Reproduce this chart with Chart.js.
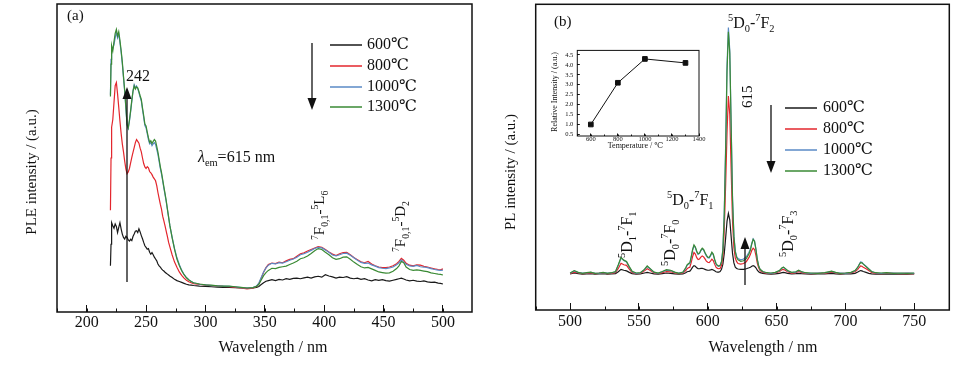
<!DOCTYPE html>
<html lang="zh">
<head>
<meta charset="UTF-8">
<title>PLE / PL spectra</title>
<script src="https://cdn.jsdelivr.net/npm/chart.js"></script>
<style>
  body { margin: 0; background: #fff; }
  #wrap { position: relative; width: 964px; height: 369px; }
  canvas { position: absolute; }
</style>
</head>
<body>
<div id="wrap">
  <canvas id="chartA" width="482" height="369" style="left:0;top:0"></canvas>
  <canvas id="chartB" width="482" height="369" style="left:482px;top:0"></canvas>
  <canvas id="inset" width="170" height="120" style="left:540px;top:40px"></canvas>
</div>
<script>
// (a) excitation spectra, em = 615 nm
const pleWavelength = [
  220, 220.5, 221, 222, 223, 224, 225, 226, 227, 228, 229, 230,
  231, 232, 233, 234, 235, 236, 237, 238, 239, 240, 241, 242,
  243, 244, 245, 246, 247, 248, 249, 250, 251, 252, 253, 254,
  255, 256, 257, 258, 259, 260, 261, 262, 263, 264, 265, 266,
  267, 268, 269, 270, 272, 274, 276, 278, 280, 282, 284, 286,
  288, 290, 295, 300, 305, 310, 315, 320, 325, 330, 335, 340,
  343, 345, 347, 349, 351, 353, 356, 359, 362, 365, 368, 371,
  374, 377, 380, 383, 386, 389, 392, 395, 398, 401, 404, 407,
  410, 413, 416, 419, 422, 425, 428, 431, 434, 437, 440, 443,
  446, 449, 452, 455, 458, 461, 463, 465, 467, 469, 472, 475,
  478, 481, 484, 487, 490, 493, 496, 498, 500
];
const ple600 = [
  15.0, 22.0, 29.0, 28.0, 27.2, 28.6, 27.8, 25.8, 27.5, 29.0, 27.0, 25.3,
  24.2, 23.7, 24.6, 24.2, 23.4, 23.0, 23.6, 23.2, 24.5, 25.3, 26.2, 26.4,
  25.8, 27.0, 26.0, 24.8, 23.8, 22.6, 21.5, 21.0, 20.4, 20.6, 19.4, 18.8,
  19.3, 18.6, 17.8, 17.2, 16.6, 15.6, 15.0, 14.6, 14.0, 13.6, 13.3, 12.9,
  12.6, 12.3, 12.0, 11.7, 11.2, 10.6, 10.2, 9.9, 9.6, 9.3, 9.0, 8.8,
  8.7, 8.6, 8.4, 8.3, 8.2, 8.1, 8.0, 8.0, 7.9, 7.8, 7.7, 7.8,
  8.0, 8.3, 8.9, 9.5, 10.0, 10.2, 10.5, 10.2, 10.6, 10.4, 10.8, 10.6,
  10.9, 11.0, 10.8, 11.1, 11.3, 11.0, 11.4, 11.6, 11.3, 12.1, 11.7, 11.4,
  11.0, 11.3, 11.2, 11.5, 11.0, 10.8, 11.0, 10.6, 10.8, 10.4, 10.1, 10.5,
  10.3, 10.5, 10.2, 10.0, 10.3, 10.6, 10.8, 11.0, 10.7, 10.4, 10.1, 10.3,
  10.0, 9.9, 10.1, 9.8, 9.6, 9.7, 9.4, 9.3, 9.1
];
const ple800 = [
  33.0, 50.0, 60.0, 62.5, 68.0, 73.5, 74.5, 70.8, 66.5, 62.0, 58.0, 54.6,
  52.0, 49.0, 46.5, 44.9, 45.5, 46.6, 48.4, 50.2, 51.8, 53.4, 55.0, 56.0,
  55.4, 54.8, 53.2, 52.0, 50.0, 48.2, 47.1, 46.6, 47.2, 46.8, 45.6, 45.2,
  44.6, 43.8, 43.2, 42.6, 41.0, 38.8, 36.9, 35.0, 33.4, 31.1, 29.6, 28.0,
  26.2, 24.5, 22.6, 21.2, 18.5, 16.2, 14.5, 13.0, 11.9, 11.0, 10.3, 9.8,
  9.5, 9.2, 9.0, 8.7, 8.6, 8.5, 8.3, 8.2, 8.0, 7.8, 7.5, 7.7,
  8.3, 9.2, 11.0, 12.9, 14.4, 15.4, 15.9, 15.7, 16.2, 16.0, 16.6, 17.1,
  17.3, 18.1, 18.9, 19.2, 19.8, 20.3, 20.8, 21.2, 21.0, 20.3, 19.5, 18.8,
  18.3, 18.9, 19.3, 19.4, 18.6, 17.7, 17.0, 16.3, 16.0, 16.4, 15.6, 15.0,
  14.6, 14.4, 14.4, 14.6, 15.0, 15.7, 16.4, 17.4, 16.8, 15.8, 15.2, 15.0,
  15.3, 15.2, 14.8, 14.6, 14.3, 14.0, 13.8, 13.7, 14.0
];
const ple1000 = [
  70.5, 82.0, 86.0, 85.5, 86.8, 89.0, 90.8, 89.0, 90.2, 87.5, 84.4, 80.6,
  76.0, 71.5, 66.0, 60.6, 59.6, 62.0, 65.0, 68.4, 71.8, 73.8, 72.8, 73.4,
  72.5, 71.2, 69.8, 68.5, 65.8, 63.2, 60.5, 59.8, 57.9, 56.0, 54.6, 55.0,
  54.0, 54.6, 55.0, 54.4, 52.8, 51.2, 48.9, 46.6, 44.8, 42.6, 40.2, 38.0,
  35.8, 33.2, 30.7, 28.1, 24.2, 20.6, 17.6, 15.4, 13.6, 12.2, 11.2, 10.5,
  9.9, 9.5, 9.0, 8.8, 8.6, 8.5, 8.4, 8.3, 8.2, 7.9, 7.8, 7.9,
  8.4, 9.4, 11.2, 13.0, 14.3, 15.2, 15.8, 15.6, 16.0, 15.9, 16.3, 16.8,
  17.2, 17.8, 18.6, 18.9, 19.4, 20.0, 20.6, 21.0, 20.8, 20.1, 19.4, 18.5,
  18.2, 18.6, 19.0, 19.1, 18.4, 17.6, 16.8, 16.1, 15.8, 15.9, 15.3, 14.9,
  14.4, 14.2, 14.1, 14.3, 14.6, 15.3, 16.0, 16.9, 16.2, 15.5, 15.0, 14.8,
  15.1, 14.7, 14.6, 14.4, 14.1, 13.8, 13.6, 13.5, 13.6
];
const ple1300 = [
  70.0, 80.5, 86.5, 84.8, 87.8, 90.5, 91.8, 89.6, 91.0, 88.2, 85.0, 81.2,
  76.5, 72.0, 66.5, 61.0, 59.8, 62.3, 65.4, 68.8, 71.6, 73.4, 72.4, 73.1,
  72.8, 71.6, 70.2, 69.0, 66.3, 63.8, 61.0, 60.4, 58.4, 56.6, 55.1, 55.6,
  54.7, 55.4, 56.0, 55.5, 53.8, 51.9, 49.6, 47.2, 45.3, 43.0, 40.6, 38.4,
  36.1, 33.4, 30.8, 28.2, 24.0, 20.3, 17.2, 15.1, 13.4, 12.1, 11.1, 10.4,
  9.9, 9.5, 9.1, 8.8, 8.7, 8.5, 8.4, 8.4, 8.2, 8.0, 7.8, 7.9,
  8.3, 9.0, 10.4, 11.8, 12.8, 13.5, 14.2, 14.1, 14.5, 14.7, 14.9, 15.4,
  15.9, 16.5, 17.3, 17.6, 18.2, 19.0, 19.9, 20.6, 20.3, 19.4, 18.6, 17.6,
  17.1, 17.3, 17.8, 17.9, 17.1, 16.2, 15.4, 14.7, 14.3, 14.5, 14.0, 13.5,
  13.0, 12.8, 12.6, 12.7, 13.2, 14.1, 15.0, 16.4, 16.0, 14.6, 13.8, 13.5,
  13.7, 13.5, 13.3, 13.1, 12.7, 12.5, 12.3, 12.2, 12.0
];
const pleTicks = [200, 250, 300, 350, 400, 450, 500];

// (b) emission spectra
const plWavelength = [
  500, 503, 506, 509, 512, 515, 518, 521, 524, 527, 530, 533,
  535, 537, 539, 541, 543, 545, 548, 551, 554, 556, 558, 561,
  564, 567, 570, 573, 576, 579, 582, 584, 585, 586, 587, 588,
  589, 590, 591, 592, 593, 594, 595, 596, 597, 598, 599, 600,
  601, 602, 603, 604, 605, 606, 607, 608, 609, 610, 611, 612,
  613, 614, 615, 616, 617, 618, 619, 620, 621, 622, 624, 626,
  628, 630, 631, 632, 633, 634, 635, 636, 637, 638, 640, 643,
  646, 649, 652, 654, 655, 656, 658, 661, 664, 666, 668, 671,
  675, 680, 685, 690, 693, 696, 700, 704, 707, 709, 710, 711,
  712, 713, 715, 717, 719, 722, 726, 730, 735, 740, 745, 750
];
const pl600 = [
  11.8, 12.1, 11.9, 11.7, 11.8, 11.9, 11.7, 11.8, 11.9, 11.7, 11.8, 11.9,
  12.5, 13.3, 13.0, 12.8, 12.3, 11.9, 11.7, 11.8, 12.1, 12.3, 12.1, 11.8,
  11.7, 11.9, 12.1, 12.0, 11.8, 11.7, 11.8, 12.2, 12.5, 12.6, 12.7, 13.3,
  14.0, 14.5, 14.3, 13.8, 13.5, 13.5, 13.6, 13.6, 13.5, 13.3, 13.1, 13.0,
  13.0, 13.1, 13.3, 13.1, 12.8, 12.5, 12.4, 12.4, 12.6, 13.3, 15.0, 18.5,
  23.5, 29.0, 31.6, 29.5, 24.0, 18.5, 15.4, 14.0, 13.6, 13.4, 13.3, 13.3,
  13.5, 13.8, 14.0, 14.3, 14.5, 14.3, 13.8, 13.0, 12.5, 12.2, 12.0, 11.8,
  11.7, 11.8, 12.0, 12.2, 12.3, 12.2, 12.0, 11.8, 11.9, 12.0, 11.9, 11.8,
  11.7, 11.8, 11.8, 12.0, 11.8, 11.7, 11.8, 11.8, 12.0, 12.4, 12.7, 12.9,
  12.8, 12.6, 12.3, 12.0, 11.8, 11.7, 11.7, 11.8, 11.7, 11.8, 11.7, 11.8
];
const pl800 = [
  11.9, 12.4, 12.1, 11.9, 12.0, 12.1, 11.9, 12.0, 12.1, 11.9, 12.0, 12.3,
  13.6, 15.3, 14.8, 14.6, 13.4, 12.3, 11.9, 12.0, 12.8, 13.5, 13.0, 12.1,
  11.9, 12.2, 12.6, 12.5, 12.1, 11.9, 12.1, 12.9, 13.5, 13.8, 14.0, 15.6,
  17.5, 18.8, 18.3, 17.1, 16.5, 16.7, 17.3, 17.7, 17.4, 16.7, 16.0, 15.6,
  15.5, 16.0, 16.6, 16.2, 15.0, 14.0, 13.6, 13.5, 13.6, 14.6, 17.5, 26.0,
  41.0, 58.0, 70.0, 64.0, 46.0, 29.0, 20.5, 17.0, 15.8, 15.2, 15.0, 15.2,
  15.8, 17.2, 18.2, 19.5, 20.2, 19.8, 17.9, 15.3, 13.8, 12.9, 12.3, 12.0,
  11.9, 12.1, 12.5, 13.2, 13.3, 13.1, 12.5, 12.0, 12.2, 12.6, 12.3, 12.0,
  11.9, 12.0, 12.0, 12.4, 12.1, 11.9, 12.0, 12.1, 12.5, 13.3, 13.9, 14.4,
  14.3, 14.0, 13.5, 12.9, 12.3, 12.0, 11.9, 12.0, 12.0, 11.9, 12.0, 11.9
];
const pl1000 = [
  12.0, 12.8, 12.2, 12.1, 12.1, 12.3, 12.1, 12.0, 12.2, 12.1, 12.1, 12.5,
  14.6, 17.0, 16.2, 15.7, 14.0, 12.6, 12.0, 12.1, 13.2, 14.2, 13.5, 12.3,
  12.0, 12.5, 13.0, 12.9, 12.3, 12.1, 12.3, 13.6, 14.6, 15.0, 15.2, 17.2,
  19.5, 21.0, 20.4, 19.0, 18.2, 18.5, 19.4, 20.0, 19.6, 18.6, 17.7, 17.1,
  17.0, 17.7, 18.7, 18.1, 16.4, 15.0, 14.5, 14.3, 14.5, 15.9, 20.0, 32.0,
  54.0, 80.0, 92.4, 85.0, 61.0, 37.0, 24.5, 19.3, 17.5, 16.8, 16.4, 16.7,
  17.4, 18.9, 20.0, 21.9, 23.3, 22.6, 20.0, 16.6, 14.5, 13.3, 12.5, 12.1,
  12.0, 12.2, 12.8, 13.7, 14.0, 13.6, 12.8, 12.2, 12.4, 12.9, 12.5, 12.1,
  12.0, 12.1, 12.1, 12.6, 12.2, 12.1, 12.0, 12.2, 12.8, 13.9, 14.9, 15.7,
  15.6, 15.1, 14.3, 13.4, 12.6, 12.1, 12.0, 12.1, 12.1, 12.0, 12.1, 12.0
];
const pl1300 = [
  12.1, 12.9, 12.3, 12.0, 12.2, 12.4, 12.0, 12.1, 12.3, 12.0, 12.2, 12.6,
  14.8, 17.2, 16.3, 15.9, 14.2, 12.7, 12.1, 12.2, 13.3, 14.4, 13.6, 12.4,
  12.1, 12.6, 13.2, 13.0, 12.4, 12.0, 12.4, 13.8, 14.8, 15.2, 15.4, 17.5,
  19.8, 21.3, 20.6, 19.2, 18.4, 18.6, 19.6, 20.2, 19.8, 18.8, 17.9, 17.3,
  17.2, 17.9, 18.9, 18.3, 16.6, 15.2, 14.6, 14.4, 14.6, 15.8, 19.5, 31.0,
  52.0, 78.0, 91.0, 84.0, 60.0, 36.0, 24.0, 19.0, 17.2, 16.4, 15.9, 16.1,
  16.8, 18.4, 19.6, 21.6, 23.1, 22.4, 19.8, 16.5, 14.4, 13.3, 12.6, 12.2,
  12.1, 12.3, 12.9, 13.8, 14.0, 13.7, 12.9, 12.3, 12.5, 13.0, 12.6, 12.2,
  12.1, 12.0, 12.2, 12.7, 12.3, 12.0, 12.1, 12.3, 12.9, 14.0, 14.8, 15.5,
  15.4, 15.0, 14.2, 13.4, 12.6, 12.2, 12.1, 12.2, 12.0, 12.1, 12.0, 12.1
];
const plTicks = [500, 550, 600, 650, 700, 750];

// inset: relative 615 nm intensity vs. annealing temperature
const insetTemps = [600, 800, 1000, 1300];
const insetIntensity = [1.0, 3.1, 4.3, 4.1];
const insetXTicks = [600, 800, 1000, 1200, 1400];
const insetYTicks = [0.5, 1.0, 1.5, 2.0, 2.5, 3.0, 3.5, 4.0, 4.5];

const seriesLabels = ['600℃', '800℃', '1000℃', '1300℃'];
const seriesColors = ['#1a1a1a', '#e3262d', '#5a8ac6', '#3a8a34'];

const SERIF = '"Liberation Serif", "DejaVu Serif", serif';
const INK = '#111';

function series(xs, ys, i) {
  return {
    label: seriesLabels[i],
    data: xs.map((x, k) => ({ x: x, y: ys[k] })),
    borderColor: seriesColors[i],
    borderWidth: 1.2,
    pointRadius: 0,
    order: 3 - i
  };
}

// text with super/subscripts, optionally rotated
function rich(ctx, parts, x, y, size, angle) {
  ctx.save();
  ctx.translate(x, y);
  ctx.rotate(angle || 0);
  ctx.fillStyle = INK;
  ctx.textAlign = 'left';
  ctx.textBaseline = 'alphabetic';
  let cx = 0;
  for (const p of parts) {
    const txt = typeof p === 'string' ? p : p[0];
    const kind = typeof p === 'string' ? '' : p[1];
    const s = (kind === 'sup' || kind === 'sub') ? size * 0.65 : size;
    ctx.font = (kind === 'it' ? 'italic ' : '') + s + 'px ' + SERIF;
    const dy = kind === 'sup' ? -size * 0.42 : kind === 'sub' ? size * 0.25 : 0;
    ctx.fillText(txt, cx, dy);
    cx += ctx.measureText(txt).width;
  }
  ctx.restore();
}

function label(ctx, txt, x, y, size, angle) {
  ctx.save();
  ctx.translate(x, y);
  ctx.rotate(angle || 0);
  ctx.fillStyle = INK;
  ctx.font = size + 'px ' + SERIF;
  ctx.textAlign = 'center';
  ctx.textBaseline = 'middle';
  ctx.fillText(txt, 0, 0);
  ctx.restore();
}

function arrow(ctx, x, tail, tip) {
  const dir = tip < tail ? -1 : 1;
  const head = 12;
  ctx.save();
  ctx.strokeStyle = INK;
  ctx.fillStyle = INK;
  ctx.lineWidth = 1.3;
  ctx.beginPath();
  ctx.moveTo(x, tail);
  ctx.lineTo(x, tip - dir * head);
  ctx.stroke();
  ctx.beginPath();
  ctx.moveTo(x, tip);
  ctx.lineTo(x - 4.5, tip - dir * head);
  ctx.lineTo(x + 4.5, tip - dir * head);
  ctx.closePath();
  ctx.fill();
  ctx.restore();
}

function legend(chart, x0, x1, xt, rows) {
  const ctx = chart.ctx;
  ctx.save();
  chart.data.datasets.forEach((ds, i) => {
    ctx.strokeStyle = ds.borderColor;
    ctx.lineWidth = 1.5;
    ctx.beginPath();
    ctx.moveTo(x0, rows[i]);
    ctx.lineTo(x1, rows[i]);
    ctx.stroke();
    ctx.fillStyle = INK;
    ctx.font = '16px ' + SERIF;
    ctx.textAlign = 'left';
    ctx.textBaseline = 'middle';
    ctx.fillText(ds.label, xt, rows[i]);
  });
  ctx.restore();
}

// box around the plot area plus small minor ticks on the x axis
function frame(minorStep, minorLen, lw) {
  return {
    id: 'frame',
    afterDraw(chart) {
      const { ctx, chartArea: a } = chart;
      const x = chart.scales.x;
      ctx.save();
      ctx.strokeStyle = INK;
      ctx.lineWidth = 1;
      ctx.beginPath();
      for (let v = Math.ceil(x.min / minorStep) * minorStep; v <= x.max; v += minorStep) {
        const px = Math.round(x.getPixelForValue(v)) + 0.5;
        ctx.moveTo(px, a.bottom);
        ctx.lineTo(px, a.bottom - minorLen);
      }
      ctx.stroke();
      ctx.lineWidth = lw;
      ctx.strokeRect(a.left, a.top, a.right - a.left, a.bottom - a.top);
      ctx.restore();
    }
  };
}

function fixedTicks(list) {
  return scale => { scale.ticks = list.map(v => ({ value: v })); };
}

function spectrumOptions(xmin, xmax, ticks, pad, axisH, tickPad) {
  return {
    responsive: false,
    animation: false,
    devicePixelRatio: 1,
    layout: { padding: pad },
    plugins: { legend: { display: false }, tooltip: { enabled: false } },
    scales: {
      x: {
        type: 'linear',
        min: xmin,
        max: xmax,
        afterBuildTicks: fixedTicks(ticks),
        afterFit: s => { s.height = axisH; },
        border: { display: false },
        grid: { drawOnChartArea: false, drawTicks: true, tickLength: -7, color: INK, tickColor: INK },
        ticks: { autoSkip: false, padding: tickPad, color: INK, maxRotation: 0, minRotation: 0,
                 callback: v => String(v),
                 font: { family: SERIF, size: 16, lineHeight: 1.2 } }
      },
      y: { display: false, min: 0, max: 100 }
    }
  };
}

const annotA = {
  id: 'annotA',
  afterDraw(chart) {
    const ctx = chart.ctx;
    label(ctx, 'PLE intensity / (a.u.)', 32, 172, 15, -Math.PI / 2);
    label(ctx, 'Wavelength / nm', 273, 348, 16);
    rich(ctx, ['(a)'], 67, 20, 15);
    rich(ctx, ['242'], 126, 81, 16);
    arrow(ctx, 127, 282, 87);
    rich(ctx, [['λ', 'it'], ['em', 'sub'], '=615 nm'], 198, 162, 16);
    rich(ctx, [['7', 'sup'], 'F', ['0,1', 'sub'], '-', ['5', 'sup'], 'L', ['6', 'sub']], 324, 240, 15, -Math.PI / 2);
    rich(ctx, [['7', 'sup'], 'F', ['0,1', 'sub'], '-', ['5', 'sup'], 'D', ['2', 'sub']], 405, 252, 15, -Math.PI / 2);
    arrow(ctx, 312, 43, 110);
    legend(chart, 330, 362, 367, [45, 66, 87, 107]);
  }
};

const annotB = {
  id: 'annotB',
  afterDraw(chart) {
    const ctx = chart.ctx;
    label(ctx, 'PL intensity / (a.u.)', 29, 172, 15, -Math.PI / 2);
    label(ctx, 'Wavelength / nm', 281, 348, 16);
    rich(ctx, ['(b)'], 72, 26, 15);
    rich(ctx, [['5', 'sup'], 'D', ['0', 'sub'], '-', ['7', 'sup'], 'F', ['2', 'sub']], 246, 28, 16);
    rich(ctx, ['615'], 270, 108, 15, -Math.PI / 2);
    rich(ctx, [['5', 'sup'], 'D', ['0', 'sub'], '-', ['7', 'sup'], 'F', ['1', 'sub']], 185, 205, 16);
    rich(ctx, [['5', 'sup'], 'D', ['1', 'sub'], '-', ['7', 'sup'], 'F', ['1', 'sub']], 150, 258, 16, -Math.PI / 2);
    rich(ctx, [['5', 'sup'], 'D', ['0', 'sub'], '-', ['7', 'sup'], 'F', ['0', 'sub']], 193, 266, 16, -Math.PI / 2);
    rich(ctx, [['5', 'sup'], 'D', ['0', 'sub'], '-', ['7', 'sup'], 'F', ['3', 'sub']], 311, 257, 16, -Math.PI / 2);
    arrow(ctx, 263, 285, 237);
    arrow(ctx, 289, 105, 173);
    legend(chart, 303, 335, 341, [108, 129, 150, 171]);
  }
};

new Chart(document.getElementById('chartA'), {
  type: 'line',
  data: { datasets: [ple600, ple800, ple1000, ple1300].map((s, i) => series(pleWavelength, s, i)) },
  options: spectrumOptions(175, 524.5, pleTicks, { left: 57, top: 4, right: 10, bottom: 0 }, 57, 8),
  plugins: [frame(25, 3.5, 1.5), annotA]
});

new Chart(document.getElementById('chartB'), {
  type: 'line',
  data: { datasets: [pl600, pl800, pl1000, pl1300].map((s, i) => series(plWavelength, s, i)) },
  options: spectrumOptions(475, 775.5, plTicks, { left: 53.7, top: 4.3, right: 14.7, bottom: 0 }, 59, 9),
  plugins: [frame(25, 3.5, 1.5), annotB]
});

new Chart(document.getElementById('inset'), {
  type: 'line',
  data: {
    datasets: [{
      data: insetTemps.map((t, k) => ({ x: t, y: insetIntensity[k] })),
      borderColor: INK,
      borderWidth: 1,
      pointStyle: 'rect',
      pointRadius: 3.3,
      pointBackgroundColor: INK,
      pointBorderColor: INK
    }]
  },
  options: {
    responsive: false,
    animation: false,
    devicePixelRatio: 1,
    layout: { padding: { left: 0, top: 9.3, right: 11, bottom: 0 } },
    plugins: { legend: { display: false }, tooltip: { enabled: false } },
    scales: {
      x: {
        type: 'linear', min: 500, max: 1400,
        afterBuildTicks: fixedTicks(insetXTicks),
        afterFit: s => { s.height = 24; },
        border: { display: false },
        grid: { drawOnChartArea: false, tickLength: -2.5, color: INK },
        ticks: { autoSkip: false, padding: 2, color: INK, maxRotation: 0, minRotation: 0,
                 callback: v => String(v),
                 font: { family: SERIF, size: 6.5, lineHeight: 1.2 } }
      },
      y: {
        min: 0.42, max: 4.73,
        afterBuildTicks: fixedTicks(insetYTicks),
        afterFit: s => { s.width = 37.3; },
        border: { display: false },
        grid: { drawOnChartArea: false, tickLength: -2.5, color: INK },
        ticks: { autoSkip: false, padding: 6.5, color: INK,
                 callback: v => v.toFixed(1),
                 font: { family: SERIF, size: 6.5, lineHeight: 1.2 } }
      }
    }
  },
  plugins: [frame(100, 1.5, 1), {
    id: 'insetTitles',
    afterDraw(chart) {
      label(chart.ctx, 'Relative Intensity / (a.u.)', 15, 52, 8, -Math.PI / 2);
      label(chart.ctx, 'Temperature / ℃', 95.5, 106, 8);
    }
  }]
});
</script>
</body>
</html>
